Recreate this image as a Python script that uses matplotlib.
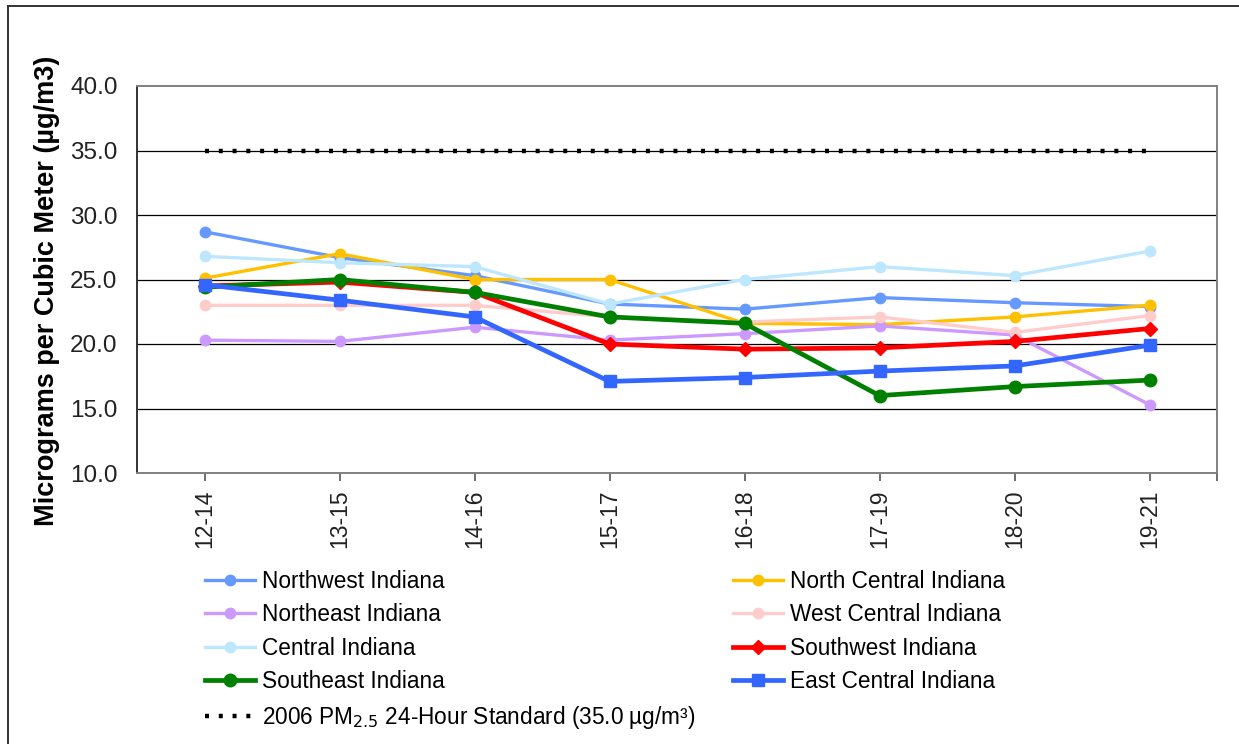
import numpy as np
import matplotlib
matplotlib.use("Agg")
from matplotlib import pyplot as plt
from matplotlib.lines import Line2D

plt.rcParams["font.family"] = ["Liberation Sans", "DejaVu Sans"]

periods = ["12-14", "13-15", "14-16", "15-17", "16-18", "17-19", "18-20", "19-21"]

northwest = [28.7, 26.7, 25.3, 23.1, 22.7, 23.6, 23.2, 22.9]
north_central = [25.1, 27.0, 25.0, 25.0, 21.6, 21.5, 22.1, 23.0]
northeast = [20.3, 20.2, 21.3, 20.3, 20.8, 21.4, 20.7, 15.3]
west_central = [23.0, 23.0, 23.0, 22.1, 21.7, 22.1, 20.9, 22.2]
central = [26.8, 26.3, 26.0, 23.1, 25.0, 26.0, 25.3, 27.2]
southwest = [24.5, 24.8, 24.0, 20.0, 19.6, 19.7, 20.2, 21.2]
southeast = [24.4, 25.0, 24.0, 22.1, 21.6, 16.0, 16.7, 17.2]
east_central = [24.6, 23.4, 22.1, 17.1, 17.4, 17.9, 18.3, 19.9]
standard = 35.0

fig = plt.figure(figsize=(12.39, 7.44), dpi=100)
ax = fig.add_axes([137 / 1239, 1 - 473 / 744, 1080 / 1239, 387 / 744])

x = np.arange(len(periods))

# thin lines, circle markers
thin = dict(lw=2.4, marker="o", ms=7.5)
ax.plot(x, northwest, color="#6699FF", label="Northwest Indiana", **thin)
ax.plot(x, north_central, color="#FFC000", label="North Central Indiana", **thin)
ax.plot(x, northeast, color="#CC99FF", label="Northeast Indiana", **thin)
ax.plot(x, west_central, color="#FFCCCC", label="West Central Indiana", **thin)
ax.plot(x, central, color="#BDE6FF", label="Central Indiana", **thin)
# thick lines
ax.plot(x, southwest, color="#FF0000", lw=3.4, marker="D", ms=7.5,
        label="Southwest Indiana")
ax.plot(x, southeast, color="#008000", lw=3.4, marker="o", ms=9,
        label="Southeast Indiana")
ax.plot(x, east_central, color="#3366FF", lw=3.4, marker="s", ms=9,
        label="East Central Indiana")
ax.plot(x, [standard] * len(x), color="black", lw=3.2,
        linestyle=(0, (0.9, 2.2)),
        label="2006 PM$_{2.5}$ 24-Hour Standard (35.0 µg/m³)")

ax.set_xlim(-0.5, len(periods) - 0.5)
ax.set_ylim(10, 40)
ax.set_yticks(np.arange(10, 41, 5))
ax.set_yticklabels([f"{v:.1f}" for v in np.arange(10, 41, 5)], fontsize=17.5)
ax.set_xticks(x)
ax.set_xticklabels(periods, rotation=90, fontsize=16.5)
ax.set_xticks([len(periods) - 0.5], minor=True)
ax.tick_params(axis="y", length=0, pad=14, colors="#222222")
ax.tick_params(axis="x", which="both", length=6, width=1.2, color="#555555",
               pad=6, labelcolor="#222222", direction="out")
for v in range(15, 40, 5):
    ax.axhline(v, color="black", lw=0.9, zorder=0.5)
for s in ax.spines.values():
    s.set_color("#808080")
    s.set_linewidth(1.4)
ax.spines["left"].set_color("#333333")

fig.text(47 / 1239, 1 - 291 / 744, "Micrograms per Cubic Meter (µg/m3)",
         rotation=90, fontsize=19.5, fontweight="bold", ha="center", va="center")

# legend, row-major order in two columns
h, l = ax.get_legend_handles_labels()
order = [0, 2, 4, 6, 8, 1, 3, 5, 7]
fig.legend([h[i] for i in order], [l[i] for i in order], ncol=2,
           loc="upper left", bbox_to_anchor=(205 / 1239, 1 - 570 / 744),
           frameon=False, fontsize=16.3, borderpad=0, borderaxespad=0,
           handlelength=2.2, handletextpad=0.3, labelspacing=0.46,
           columnspacing=1.68)

# outer frame (right and bottom cut off)
fig.add_artist(Line2D([7.5 / 1239, 7.5 / 1239], [0, 1 - 5.5 / 744],
                      transform=fig.transFigure, color="#333333", lw=1.4))
fig.add_artist(Line2D([7.5 / 1239, 1], [1 - 5.5 / 744, 1 - 5.5 / 744],
                      transform=fig.transFigure, color="#333333", lw=1.4))

fig.savefig("out.png", dpi=100)
